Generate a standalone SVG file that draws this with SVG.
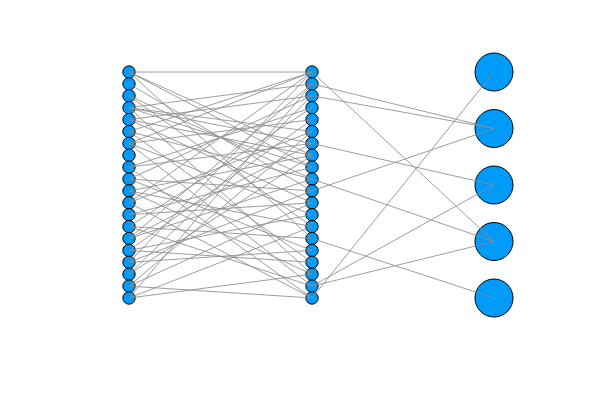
<svg xmlns="http://www.w3.org/2000/svg" width="600" height="400" viewBox="0 0 600 400">
<style>
.n{fill:#009af9;stroke:#000;stroke-width:1}
.e line{stroke:#8c8c8c;stroke-opacity:0.85;stroke-width:1}
</style>
<rect width="600" height="400" fill="#fff"/>
<g id="nodes">
<g id="a0"><circle class="n" cx="129" cy="72.0" r="6.2"/></g>
<g id="a1"><circle class="n" cx="129" cy="83.9" r="6.2"/></g>
<g id="a2"><circle class="n" cx="129" cy="95.8" r="6.2"/></g>
<g id="a3"><circle class="n" cx="129" cy="107.7" r="6.2"/></g>
<g id="a4"><circle class="n" cx="129" cy="119.6" r="6.2"/></g>
<g id="a5"><circle class="n" cx="129" cy="131.5" r="6.2"/></g>
<g id="a6"><circle class="n" cx="129" cy="143.4" r="6.2"/></g>
<g id="a7"><circle class="n" cx="129" cy="155.3" r="6.2"/></g>
<g id="a8"><circle class="n" cx="129" cy="167.2" r="6.2"/></g>
<g id="a9"><circle class="n" cx="129" cy="179.1" r="6.2"/></g>
<g id="a10"><circle class="n" cx="129" cy="190.9" r="6.2"/></g>
<g id="a11"><circle class="n" cx="129" cy="202.8" r="6.2"/></g>
<g id="a12"><circle class="n" cx="129" cy="214.7" r="6.2"/></g>
<g id="a13"><circle class="n" cx="129" cy="226.6" r="6.2"/></g>
<g id="a14"><circle class="n" cx="129" cy="238.5" r="6.2"/></g>
<g id="a15"><circle class="n" cx="129" cy="250.4" r="6.2"/></g>
<g id="a16"><circle class="n" cx="129" cy="262.3" r="6.2"/></g>
<g id="a17"><circle class="n" cx="129" cy="274.2" r="6.2"/></g>
<g id="a18"><circle class="n" cx="129" cy="286.1" r="6.2"/></g>
<g id="a19"><circle class="n" cx="129" cy="298.0" r="6.2"/></g>
<g id="b0"><circle class="n" cx="312" cy="72.0" r="6.2"/></g>
<g id="b1"><circle class="n" cx="312" cy="83.9" r="6.2"/></g>
<g id="b2"><circle class="n" cx="312" cy="95.8" r="6.2"/></g>
<g id="b3"><circle class="n" cx="312" cy="107.7" r="6.2"/></g>
<g id="b4"><circle class="n" cx="312" cy="119.6" r="6.2"/></g>
<g id="b5"><circle class="n" cx="312" cy="131.5" r="6.2"/></g>
<g id="b6"><circle class="n" cx="312" cy="143.4" r="6.2"/></g>
<g id="b7"><circle class="n" cx="312" cy="155.3" r="6.2"/></g>
<g id="b8"><circle class="n" cx="312" cy="167.2" r="6.2"/></g>
<g id="b9"><circle class="n" cx="312" cy="179.1" r="6.2"/></g>
<g id="b10"><circle class="n" cx="312" cy="190.9" r="6.2"/></g>
<g id="b11"><circle class="n" cx="312" cy="202.8" r="6.2"/></g>
<g id="b12"><circle class="n" cx="312" cy="214.7" r="6.2"/></g>
<g id="b13"><circle class="n" cx="312" cy="226.6" r="6.2"/></g>
<g id="b14"><circle class="n" cx="312" cy="238.5" r="6.2"/></g>
<g id="b15"><circle class="n" cx="312" cy="250.4" r="6.2"/></g>
<g id="b16"><circle class="n" cx="312" cy="262.3" r="6.2"/></g>
<g id="b17"><circle class="n" cx="312" cy="274.2" r="6.2"/></g>
<g id="b18"><circle class="n" cx="312" cy="286.1" r="6.2"/></g>
<g id="b19"><circle class="n" cx="312" cy="298.0" r="6.2"/></g>
<g id="c0"><circle class="n" cx="494" cy="72" r="19"/></g>
<g id="c1"><circle class="n" cx="494" cy="128.5" r="19"/></g>
<g id="c2"><circle class="n" cx="494" cy="185" r="19"/></g>
<g id="c3"><circle class="n" cx="494" cy="241.5" r="19"/></g>
<g id="c4"><circle class="n" cx="494" cy="298" r="19"/></g>
</g>
<g id="edges" class="e">
<!-- first layer to middle layer -->
<line x1="129" y1="72.0" x2="312" y2="72.0"/>
<line x1="129" y1="72.0" x2="312" y2="155.3"/>
<line x1="129" y1="72.0" x2="312" y2="167.2"/>
<line x1="129" y1="72.0" x2="312" y2="238.5"/>
<line x1="129" y1="83.9" x2="312" y2="190.9"/>
<line x1="129" y1="95.8" x2="312" y2="179.1"/>
<line x1="129" y1="95.8" x2="312" y2="226.6"/>
<line x1="129" y1="107.7" x2="312" y2="83.9"/>
<line x1="129" y1="107.7" x2="312" y2="131.5"/>
<line x1="129" y1="107.7" x2="312" y2="143.4"/>
<line x1="129" y1="107.7" x2="312" y2="167.2"/>
<line x1="129" y1="107.7" x2="312" y2="274.2"/>
<line x1="129" y1="119.6" x2="312" y2="95.8"/>
<line x1="129" y1="119.6" x2="312" y2="155.3"/>
<line x1="129" y1="119.6" x2="312" y2="202.8"/>
<line x1="129" y1="131.5" x2="312" y2="72.0"/>
<line x1="129" y1="131.5" x2="312" y2="179.1"/>
<line x1="129" y1="131.5" x2="312" y2="262.3"/>
<line x1="129" y1="143.4" x2="312" y2="72.0"/>
<line x1="129" y1="143.4" x2="312" y2="119.6"/>
<line x1="129" y1="143.4" x2="312" y2="214.7"/>
<line x1="129" y1="143.4" x2="312" y2="286.1"/>
<line x1="129" y1="167.2" x2="312" y2="107.7"/>
<line x1="129" y1="167.2" x2="312" y2="143.4"/>
<line x1="129" y1="167.2" x2="312" y2="298.0"/>
<line x1="129" y1="179.1" x2="312" y2="95.8"/>
<line x1="129" y1="179.1" x2="312" y2="190.9"/>
<line x1="129" y1="179.1" x2="312" y2="250.4"/>
<line x1="129" y1="190.9" x2="312" y2="155.3"/>
<line x1="129" y1="190.9" x2="312" y2="226.6"/>
<line x1="129" y1="190.9" x2="312" y2="274.2"/>
<line x1="129" y1="202.8" x2="312" y2="72.0"/>
<line x1="129" y1="202.8" x2="312" y2="131.5"/>
<line x1="129" y1="202.8" x2="312" y2="298.0"/>
<line x1="129" y1="214.7" x2="312" y2="167.2"/>
<line x1="129" y1="214.7" x2="312" y2="202.8"/>
<line x1="129" y1="226.6" x2="312" y2="107.7"/>
<line x1="129" y1="226.6" x2="312" y2="238.5"/>
<line x1="129" y1="226.6" x2="312" y2="286.1"/>
<line x1="129" y1="238.5" x2="312" y2="83.9"/>
<line x1="129" y1="238.5" x2="312" y2="143.4"/>
<line x1="129" y1="238.5" x2="312" y2="179.1"/>
<line x1="129" y1="250.4" x2="312" y2="119.6"/>
<line x1="129" y1="250.4" x2="312" y2="214.7"/>
<line x1="129" y1="250.4" x2="312" y2="262.3"/>
<line x1="129" y1="262.3" x2="312" y2="72.0"/>
<line x1="129" y1="262.3" x2="312" y2="190.9"/>
<line x1="129" y1="262.3" x2="312" y2="250.4"/>
<line x1="129" y1="274.2" x2="312" y2="95.8"/>
<line x1="129" y1="274.2" x2="312" y2="155.3"/>
<line x1="129" y1="286.1" x2="312" y2="131.5"/>
<line x1="129" y1="286.1" x2="312" y2="202.8"/>
<line x1="129" y1="286.1" x2="312" y2="298.0"/>
<line x1="129" y1="298.0" x2="312" y2="83.9"/>
<line x1="129" y1="298.0" x2="312" y2="226.6"/>
<line x1="129" y1="298.0" x2="312" y2="274.2"/>
<!-- middle layer to output layer -->
<line x1="312" y1="72.0" x2="494" y2="241.5"/>
<line x1="312" y1="83.9" x2="494" y2="128.5"/>
<line x1="312" y1="95.8" x2="494" y2="128.5"/>
<line x1="312" y1="143.4" x2="494" y2="185"/>
<line x1="312" y1="179.1" x2="494" y2="241.5"/>
<line x1="312" y1="190.9" x2="494" y2="128.5"/>
<line x1="312" y1="238.5" x2="494" y2="298"/>
<line x1="312" y1="286.1" x2="494" y2="185"/>
<line x1="312" y1="286.1" x2="494" y2="241.5"/>
<line x1="312" y1="298.0" x2="494" y2="72"/>
</g>
</svg>
